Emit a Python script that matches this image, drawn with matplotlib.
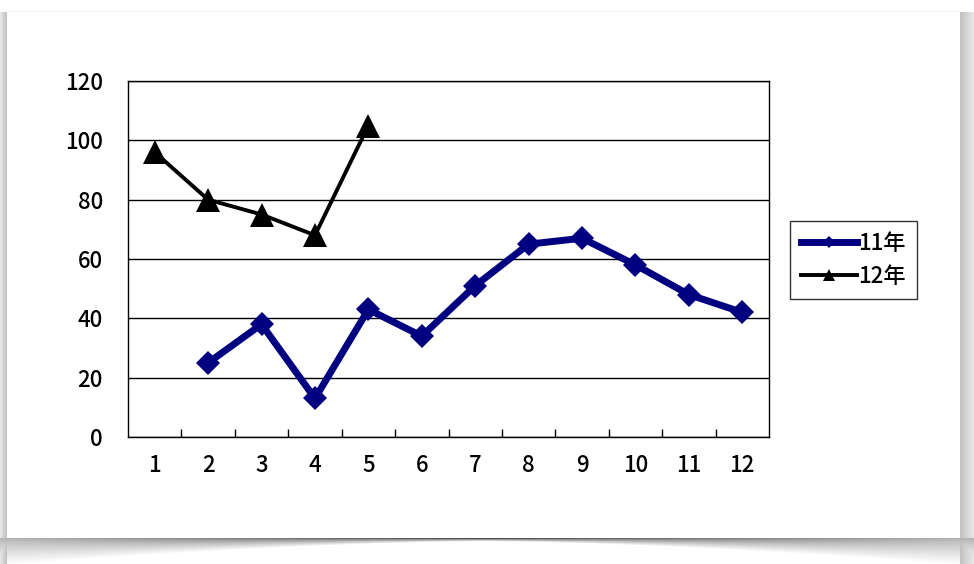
import numpy as np
import matplotlib
matplotlib.use("Agg")
import matplotlib.pyplot as plt
from matplotlib.ticker import FixedLocator, NullFormatter

plt.rcParams['font.family'] = ['Noto Sans CJK JP', 'DejaVu Sans']
plt.rcParams['font.weight'] = 'medium'

months = list(range(1, 13))
series_11_months = [2, 3, 4, 5, 6, 7, 8, 9, 10, 11, 12]
series_11_values = [25, 38, 13, 43, 34, 51, 65, 67, 58, 48, 42]
series_12_months = [1, 2, 3, 4, 5]
series_12_values = [96, 80, 75, 68, 105]
series_names = ['11年', '12年']
y_ticks = [0, 20, 40, 60, 80, 100, 120]

W, H = 974, 564
fig = plt.figure(figsize=(W / 100, H / 100), dpi=100)

# ---- decorative card background with shadow ----
img = np.ones((H, W))
cl, cr, ct, cb = 7, 960, 12, 538
for r in range(ct, H):
    img[r, 0:cl] = np.linspace(0.90, 0.76, cl)
    img[r, cr:W] = np.linspace(0.76, 0.90, W - cr)
c = (cl + cr) / 2
for x in range(W):
    d = min(abs(x - c) / (c - cl), 1.0)
    depth = 3 + 24 * d ** 1.6
    for r in range(cb, H):
        t = (r - cb) / depth
        if t <= 1:
            base = 0.30 + 0.40 * d
            img[r, x] = min(img[r, x], base + (1 - base) * t ** 0.8)
img[ct - 1, cl:cr] = 0.96
bg = fig.add_axes([0, 0, 1, 1], zorder=-1)
bg.imshow(img, cmap='gray', vmin=0, vmax=1, aspect='auto', interpolation='bilinear')
bg.axis('off')

# ---- main chart ----
ax = fig.add_axes([128 / W, (H - 437) / H, (769 - 128) / W, (437 - 81) / H])
ax.set_facecolor('white')
ax.set_xlim(0.5, 12.5)
ax.set_ylim(0, 120)
ax.set_yticks(y_ticks)
ax.set_xticks(months)
ax.tick_params(axis='both', which='major', length=0, labelsize=16)
ax.tick_params(axis='x', pad=12)
ax.tick_params(axis='y', pad=18)
ax.xaxis.set_minor_locator(FixedLocator([m + 0.5 for m in months[:-1]]))
ax.xaxis.set_minor_formatter(NullFormatter())
ax.tick_params(axis='x', which='minor', direction='in', length=6, width=1, color='black')
for s in ax.spines.values():
    s.set_color('black')
    s.set_linewidth(1)
ax.yaxis.grid(True, color='black', linewidth=1)
ax.set_axisbelow(True)

ax.plot(series_11_months, series_11_values, color='#000080', linewidth=5,
        marker='D', markersize=12.5, markeredgewidth=0, label=series_names[0],
        clip_on=False, zorder=3)
ax.plot(series_12_months, series_12_values, color='black', linewidth=2.8,
        marker='^', markersize=17, markeredgewidth=0, label=series_names[1],
        clip_on=False, zorder=3)

leg = ax.legend(loc='upper left', bbox_to_anchor=((790 - 128) / 641, (437 - 221) / 356),
                borderaxespad=0, fontsize=16, frameon=True, fancybox=False,
                edgecolor='black', handlelength=2.5, handletextpad=0.05,
                borderpad=0.5, labelspacing=0.45, markerscale=0.5)
leg.get_frame().set_linewidth(1)

fig.savefig('out.png', dpi=100)
